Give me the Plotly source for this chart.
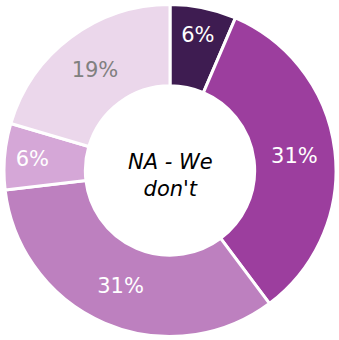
import plotly.graph_objects as go

labels = ['A', 'B', 'C', 'D', 'E']
percents = [6, 31, 31, 6, 19]
colors = ['#3e1c51', '#9c3e9e', '#bd80bf', '#d5a7d7', '#ebd7eb']
text_colors = ['white', 'white', 'white', 'white', '#808080']
center_text = "NA - We<br>don't"

fig = go.Figure(go.Pie(
    labels=labels,
    values=percents,
    texttemplate='%{value}%',
    textposition='inside',
    insidetextorientation='horizontal',
    sort=False,
    direction='clockwise',
    rotation=0,
    hole=0.51,
    marker=dict(colors=colors, line=dict(color='white', width=3)),
    textfont=dict(family='DejaVu Sans', size=21, color=text_colors),
    showlegend=False,
))

fig.add_annotation(
    text='<i>' + center_text + '</i>',
    x=0.5, y=0.5, xref='paper', yref='paper',
    yshift=-5,
    showarrow=False,
    font=dict(family='DejaVu Sans', size=21, color='black'),
)

fig.update_layout(
    width=339,
    height=340,
    margin=dict(l=4, r=3, t=3, b=2),
    paper_bgcolor='white',
    plot_bgcolor='white',
)

# drop the browser's default body margin so the chart sits at the page origin
fig.write_html(
    'out.html',
    config={'displayModeBar': False},
    post_script="document.body.style.margin='0';",
)
